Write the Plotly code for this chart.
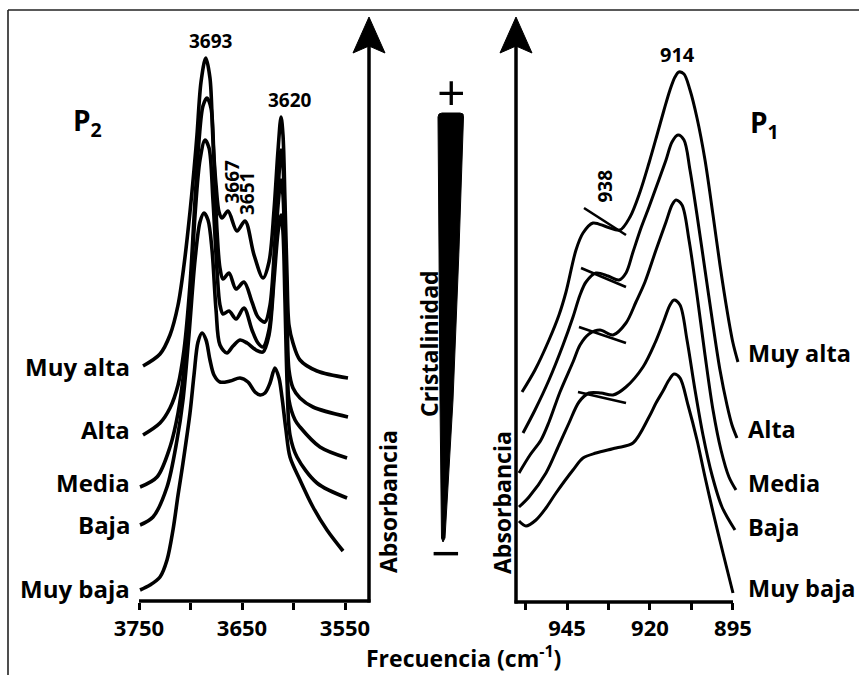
import plotly.graph_objects as go

W, H = 859, 675


def fx(px):
    return px / W


def fy(py):
    return 1 - py / H


FONT = "Open Sans"

# ---------------- Left panel (OH stretching region, P2) ----------------
left_ticks = [3750, 3650, 3550]
left_ticktext = ["3750", "3650", "3550"]
left_minor_ticks = [3700, 3600]

muy_alta_L_x = [3746.1, 3729.6, 3719.9, 3712.1, 3706.3, 3700.5, 3696.6, 3693.7, 3689.8, 3685.2,
                3681.1, 3678.2, 3675.2, 3672.3, 3669.4, 3663.6, 3654.9, 3647.1, 3638.3, 3629.6,
                3623.8, 3618.9, 3615.0, 3612.1, 3610.2, 3608.3, 3606.3, 3604.4, 3600.5, 3593.7,
                3577.2, 3547.1]
muy_alta_L_y = [2.36, 2.48, 2.67, 2.97, 3.37, 3.90, 4.32, 4.67, 5.20, 5.44,
                5.24, 4.62, 4.17, 3.90, 3.84, 3.91, 3.71, 3.81, 3.47, 3.24,
                3.40, 3.92, 4.52, 4.85, 4.67, 4.02, 3.27, 2.77, 2.59, 2.42,
                2.31, 2.24]

alta_L_x = [3746.1, 3729.6, 3719.9, 3712.1, 3706.3, 3700.5, 3695.6, 3691.7, 3687.9, 3684.0,
            3680.1, 3677.2, 3674.3, 3671.4, 3668.4, 3662.6, 3655.8, 3648.1, 3640.3, 3634.5,
            3627.7, 3622.8, 3618.0, 3614.1, 3612.1, 3610.2, 3608.3, 3606.3, 3604.4, 3600.5,
            3593.7, 3581.1, 3547.1]
alta_L_y = [1.67, 1.79, 1.94, 2.17, 2.52, 3.17, 4.02, 4.62, 4.96, 5.04,
            4.94, 4.42, 3.72, 3.34, 3.23, 3.29, 3.13, 3.20, 3.00, 2.85,
            2.80, 2.97, 3.62, 4.27, 4.52, 4.37, 3.72, 2.92, 2.32, 2.14,
            2.04, 1.95, 1.85]

media_L_x = [3749.0, 3732.5, 3719.9, 3712.1, 3706.3, 3700.5, 3695.6, 3690.8, 3685.9, 3682.0,
             3678.2, 3674.3, 3671.4, 3668.4, 3662.6, 3655.8, 3648.1, 3640.3, 3634.5, 3629.6,
             3623.8, 3618.9, 3615.0, 3612.1, 3610.2, 3608.3, 3606.3, 3604.4, 3598.5, 3593.7,
             3574.3, 3548.0]
media_L_y = [1.15, 1.25, 1.55, 1.89, 2.32, 3.02, 3.87, 4.42, 4.62, 4.54,
             4.02, 3.32, 2.97, 2.88, 2.91, 2.83, 2.94, 2.72, 2.59, 2.55,
             2.72, 3.32, 3.97, 4.22, 4.07, 3.42, 2.62, 2.02, 1.82, 1.75,
             1.55, 1.44]

baja_L_x = [3749.0, 3736.4, 3722.8, 3713.1, 3707.3, 3701.5, 3695.6, 3690.8, 3686.9, 3683.0,
            3679.1, 3675.2, 3671.4, 3664.6, 3658.7, 3651.9, 3645.1, 3636.4, 3629.6, 3623.8,
            3618.9, 3615.0, 3612.1, 3610.2, 3608.3, 3606.3, 3603.4, 3596.6, 3577.2, 3548.0]
baja_L_y = [0.77, 0.85, 1.15, 1.62, 2.02, 2.67, 3.42, 3.80, 3.89, 3.82,
            3.52, 2.92, 2.57, 2.49, 2.56, 2.62, 2.59, 2.52, 2.50, 2.67,
            3.22, 3.70, 3.87, 3.70, 3.02, 2.22, 1.67, 1.45, 1.19, 1.04]

muy_baja_L_x = [3749.0, 3739.3, 3729.6, 3722.8, 3717.0, 3712.1, 3707.3, 3700.5, 3696.6, 3692.7,
                3688.8, 3684.9, 3681.1, 3677.2, 3671.4, 3661.6, 3651.9, 3644.2, 3637.4, 3632.5,
                3627.7, 3622.8, 3618.0, 3614.1, 3611.2, 3607.3, 3603.4, 3593.7, 3581.1, 3567.5,
                3551.9]
muy_baja_L_y = [0.12, 0.17, 0.25, 0.42, 0.72, 1.07, 1.39, 1.89, 2.27, 2.60,
                2.69, 2.62, 2.42, 2.27, 2.20, 2.21, 2.24, 2.20, 2.10, 2.07,
                2.09, 2.19, 2.34, 2.24, 2.05, 1.72, 1.45, 1.22, 0.95, 0.72,
                0.51]

# ---------------- Right panel (OH bending region, P1) ----------------
right_ticks = [945, 920, 895]
right_ticktext = ["945", "920", "895"]
right_minor_ticks = [957.5, 932.5, 907.5]

muy_alta_R_x = [958.55, 954.64, 950.42, 947.41, 945.30, 942.29, 940.18, 937.17, 932.95, 929.04,
                926.02, 923.01, 920.30, 917.89, 915.78, 913.98, 912.47, 911.27, 909.76, 907.95,
                905.84, 903.43, 901.02, 898.92, 896.81, 895.00, 893.50]
muy_alta_R_y = [2.10, 2.32, 2.62, 2.87, 3.10, 3.52, 3.69, 3.79, 3.75, 3.72,
                3.85, 4.10, 4.39, 4.67, 4.92, 5.12, 5.25, 5.30, 5.28, 5.12,
                4.84, 4.42, 3.87, 3.37, 2.92, 2.59, 2.40]

alta_R_x = [958.25, 954.64, 950.42, 946.20, 943.19, 941.08, 939.28, 936.27, 932.65, 929.34,
            927.23, 925.12, 922.71, 920.30, 917.89, 915.18, 913.37, 911.57, 909.76, 907.95,
            905.84, 903.43, 901.02, 898.92, 896.81, 895.30, 893.80]
alta_R_y = [1.69, 1.92, 2.22, 2.57, 2.85, 3.07, 3.20, 3.29, 3.26, 3.22,
            3.29, 3.50, 3.74, 3.95, 4.17, 4.42, 4.60, 4.67, 4.62, 4.32,
            3.87, 3.32, 2.77, 2.32, 1.97, 1.77, 1.64]

media_R_x = [959.46, 956.14, 952.83, 950.42, 947.11, 943.19, 941.08, 938.37, 935.06, 931.14,
             927.23, 924.22, 921.51, 918.19, 915.18, 913.37, 912.17, 910.36, 908.25, 905.84,
             903.43, 901.02, 898.62, 896.21, 894.10]
media_R_y = [1.29, 1.47, 1.62, 1.80, 2.10, 2.40, 2.57, 2.68, 2.72, 2.67,
             2.79, 3.00, 3.20, 3.52, 3.80, 3.97, 4.02, 3.97, 3.62, 3.07,
             2.47, 1.92, 1.52, 1.25, 1.12]

baja_R_x = [959.46, 956.45, 951.33, 947.41, 944.40, 941.39, 938.37, 934.76, 931.14, 927.23,
            922.11, 918.49, 916.08, 913.98, 912.77, 910.96, 908.85, 906.44, 904.04, 901.33,
            898.31, 894.40]
baja_R_y = [0.95, 1.05, 1.29, 1.57, 1.79, 2.00, 2.09, 2.09, 2.07, 2.15,
            2.35, 2.59, 2.79, 2.97, 3.02, 2.97, 2.62, 2.12, 1.67, 1.27,
            0.95, 0.72]

muy_baja_R_x = [959.46, 957.35, 954.34, 951.33, 948.31, 943.19, 940.18, 936.27, 930.24, 925.12,
                920.30, 918.19, 916.08, 914.28, 912.77, 910.96, 908.55, 905.84, 903.43, 901.02,
                898.01, 895.00]
muy_baja_R_y = [0.81, 0.76, 0.82, 0.94, 1.09, 1.32, 1.44, 1.49, 1.54, 1.59,
                1.85, 1.99, 2.11, 2.22, 2.28, 2.24, 1.97, 1.62, 1.25, 0.90,
                0.49, 0.09]

# short markers crossing the 938 shoulder (start/end of each marker)
mark938_x0 = [939.88, 940.78, 941.39, 941.69]
mark938_x1 = [927.23, 927.23, 927.23, 927.23]
mark938_y0 = [3.94, 3.34, 2.75, 2.10]
mark938_y1 = [3.67, 3.15, 2.59, 1.99]

levels = ["Muy alta", "Alta", "Media", "Baja", "Muy baja"]

left_series = [(muy_alta_L_x, muy_alta_L_y), (alta_L_x, alta_L_y), (media_L_x, media_L_y),
               (baja_L_x, baja_L_y), (muy_baja_L_x, muy_baja_L_y)]
right_series = [(muy_alta_R_x, muy_alta_R_y), (alta_R_x, alta_R_y), (media_R_x, media_R_y),
                (baja_R_x, baja_R_y), (muy_baja_R_x, muy_baja_R_y)]

fig = go.Figure()
for name, (x, y) in zip(levels, left_series):
    fig.add_trace(go.Scatter(x=x, y=y, xaxis="x", yaxis="y", mode="lines", name=name,
                             line=dict(color="black", width=3.6, shape="spline", smoothing=0.9),
                             showlegend=False, hoverinfo="skip"))
for name, (x, y) in zip(levels, right_series):
    fig.add_trace(go.Scatter(x=x, y=y, xaxis="x2", yaxis="y2", mode="lines", name=name,
                             line=dict(color="black", width=3.0, shape="spline", smoothing=0.9),
                             showlegend=False, hoverinfo="skip"))
for x0, x1, y0, y1 in zip(mark938_x0, mark938_x1, mark938_y0, mark938_y1):
    fig.add_trace(go.Scatter(x=[x0, x1], y=[y0, y1], xaxis="x2", yaxis="y2", mode="lines",
                             line=dict(color="black", width=2.6), showlegend=False,
                             hoverinfo="skip"))

tickfont = dict(family=FONT, size=22, color="black", weight="bold")
ydom = [fy(602), fy(17)]


def xaxis_style(domain, rng, anchor, major, labels, minor_vals):
    return dict(domain=domain, range=rng, anchor=anchor, automargin=False,
                showgrid=False, zeroline=False, showline=False, ticks="outside",
                tickvals=major, ticktext=labels, ticklen=7, tickwidth=3,
                tickcolor="black", tickfont=tickfont,
                minor=dict(tickvals=minor_vals, ticks="outside", ticklen=7, tickwidth=3,
                           tickcolor="black", showgrid=False))


fig.update_layout(
    width=W, height=H, margin=dict(l=0, r=0, t=0, b=0, autoexpand=False), autosize=False,
    paper_bgcolor="white", plot_bgcolor="rgba(0,0,0,0)",
    xaxis=xaxis_style([fx(139), fx(369)], [3750, 3526.7], "y",
                      left_ticks, left_ticktext, left_minor_ticks),
    yaxis=dict(domain=ydom, range=[0, 5.85], anchor="x", visible=False),
    xaxis2=xaxis_style([fx(516), fx(740)], [960.36, 892.89], "y2",
                       right_ticks, right_ticktext, right_minor_ticks),
    yaxis2=dict(domain=ydom, range=[0, 5.85], anchor="x2", visible=False),
)

shapes = []


def pline(x0, y0, x1, y1, w=3.5, color="black"):
    shapes.append(dict(type="line", xref="paper", yref="paper", x0=fx(x0), y0=fy(y0),
                       x1=fx(x1), y1=fy(y1), line=dict(color=color, width=w)))


def ppath(pts, fill="black"):
    d = "M " + " L ".join(f"{fx(a):.5f},{fy(b):.5f}" for a, b in pts) + " Z"
    shapes.append(dict(type="path", xref="paper", yref="paper", path=d,
                       fillcolor=fill, line=dict(color=fill, width=1)))


# frame
pline(8, 10, 8, 675, w=1.6, color="#222")
pline(8, 10, 859, 10, w=1.6, color="#222")
# left axes
pline(139, 601, 370.5, 601)
pline(369, 602.5, 369, 45)
ppath([(369, 17), (385, 53), (369, 46), (353, 53)])
# right axes
pline(514.5, 602, 733, 602)
pline(516, 603.5, 516, 45)
ppath([(516, 17), (532, 53), (516, 46), (500, 53)])
# crystallinity wedge
ppath([(438, 117), (439, 114), (442, 113), (460, 113), (463, 114), (463.5, 117),
       (459, 250), (453, 400), (445, 538), (443, 542), (441.5, 538), (440, 400), (439, 250)])

fig.update_layout(shapes=shapes)

ann = []


def text(t, x, y, size, xanchor="center", angle=0, weight="bold", yanchor="middle"):
    ann.append(dict(text=t, x=fx(x), y=fy(y), xref="paper", yref="paper", showarrow=False,
                    xanchor=xanchor, yanchor=yanchor, textangle=angle, borderpad=0,
                    font=dict(family=FONT, size=size, color="black", weight=weight)))


text("3693", 210.5, 41.5, 19)
text("3620", 289.5, 100.5, 19)
text("3667", 231, 181.5, 19, angle=-90)
text("3651", 247.5, 193.5, 19, angle=-90)
text("914", 677.5, 54.5, 20)
text("938", 605, 186.5, 19, angle=-90)
text("P<sub>2</sub>", 72, 122, 28, xanchor="left")
text("P<sub>1</sub>", 749, 124, 28, xanchor="left")
text("Cristalinidad", 429, 344, 23, angle=-90)
text("Absorbancia", 388, 502, 23, angle=-90)
text("Absorbancia", 502, 502, 23, angle=-90)
text("+", 451, 92, 50, weight="normal")
text("\u2212", 446, 551, 52, weight="normal")
text("Frecuencia (cm<sup>-1</sup>)", 463, 675, 23, yanchor="bottom")

left_label_y = [366, 429, 483, 524, 588]
right_label_y = [353, 429, 483, 527, 588]
for lab, yl, yr in zip(levels, left_label_y, right_label_y):
    text(lab, 131, yl, 24, xanchor="right")
    text(lab, 747, yr, 23.5, xanchor="left")

fig.update_layout(annotations=ann)
fig.write_html(
    "out.html",
    config={"responsive": False, "displayModeBar": False},
    post_script="document.body.style.margin='0px';"
                "document.documentElement.style.overflow='hidden';"
                "document.body.style.overflow='hidden';",
)
